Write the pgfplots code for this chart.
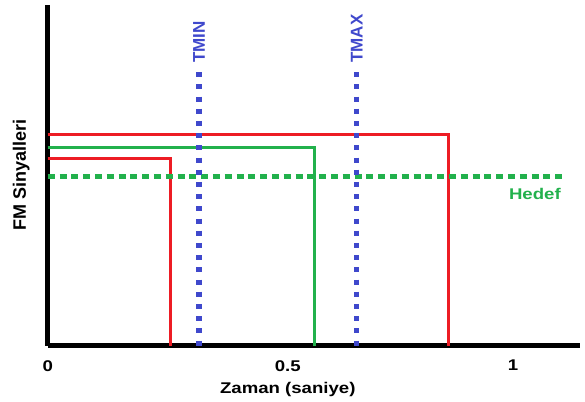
\documentclass[border=0pt]{standalone}
\usepackage{pgfplots}
\pgfplotsset{compat=1.18}
\usepackage{fontspec}
\setmainfont{Liberation Sans}[FakeStretch=1.2]
\newfontfamily\rotfont{Liberation Sans}
\usetikzlibrary{calc}
\definecolor{pred}{HTML}{ED1C24}
\definecolor{pgreen}{HTML}{22B14C}
\definecolor{pblue}{HTML}{3F48CC}

\begin{document}
\begin{tikzpicture}
\begin{axis}[
    scale only axis,
    width=532.3bp, height=340.7bp,
    xmin=0, xmax=1.144,
    ymin=0, ymax=1,
    axis lines=left,
    axis line style={-, line width=5.3bp, black},
    xtick={0,0.516,1},
    xticklabels={0,0.5,1},
    ytick=\empty,
    major tick length=0pt,
    /pgf/number format/assume math mode=true,
    xticklabel style={anchor=north, inner sep=0pt, yshift=-14.3bp,
        font=\fontsize{15.5bp}{18bp}\selectfont\bfseries},
    xlabel={Zaman (saniye)},
    xlabel style={at={(axis description cs:0.451,-0.1057)}, anchor=north,
        inner sep=0pt, font=\fontsize{15.5bp}{18bp}\selectfont\bfseries},
    ylabel={FM Sinyalleri},
    ylabel style={at={(axis description cs:-0.0496,0.5)}, anchor=center,
        inner sep=0pt, font=\rotfont\fontsize{18bp}{21bp}\selectfont\bfseries},
    clip=false,
]
% solid signals
\addplot[pred, line width=3bp] coordinates {(0,0.619) (0.862,0.619) (0.862,0)};
\addplot[pgreen, line width=3bp] coordinates {(0,0.581) (0.574,0.581) (0.574,0)};
\addplot[pred, line width=3bp] coordinates {(0,0.548) (0.263,0.548) (0.263,0)};
% target and limits
\addplot[pgreen, line width=5bp, dash pattern=on 7bp off 4.8bp] coordinates {(0,0.496) (1.112,0.496)};
\addplot[pblue, line width=5.3bp, dash pattern=on 5bp off 7.2bp] coordinates {(0.325,0.803) (0.325,0)};
\addplot[pblue, line width=5.3bp, dash pattern=on 5bp off 7.2bp] coordinates {(0.664,0.803) (0.664,0)};

\node[text=pgreen, font=\fontsize{15.5bp}{18bp}\selectfont\bfseries] at (axis cs:1.047,0.445) {Hedef};
\node[rotate=90, anchor=west, inner sep=0pt, text=pblue,
      font=\rotfont\fontsize{17bp}{20bp}\selectfont\bfseries] at (axis cs:0.325,0.83) {TMIN};
\node[rotate=90, anchor=west, inner sep=0pt, text=pblue,
      font=\rotfont\fontsize{17bp}{20bp}\selectfont\bfseries] at (axis cs:0.664,0.83) {TMAX};

\coordinate (sw) at (rel axis cs:0,0);
\coordinate (ne) at (rel axis cs:1,1);
\end{axis}
\pgfresetboundingbox
\path[use as bounding box] ($(sw)+(-47.7bp,-56.3bp)$) rectangle ($(ne)+(5bp,5bp)$);
\end{tikzpicture}
\end{document}
